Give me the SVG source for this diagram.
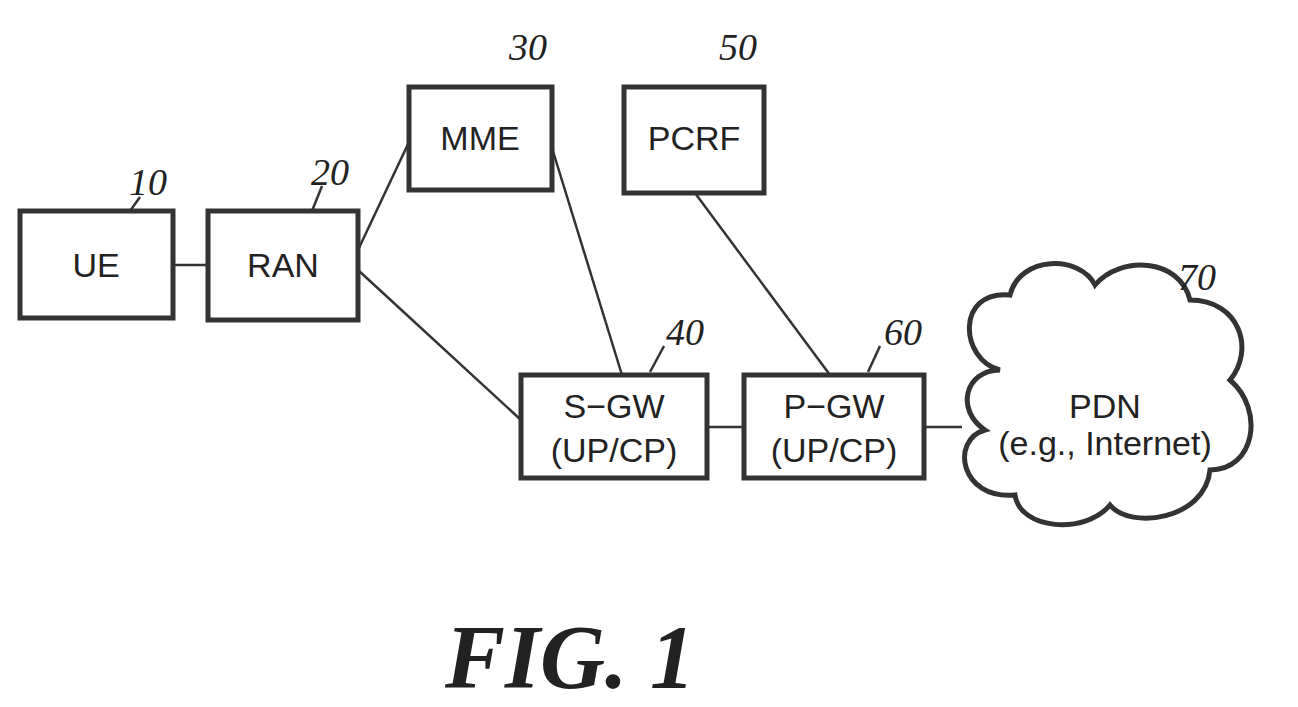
<svg xmlns="http://www.w3.org/2000/svg" width="1298" height="707" viewBox="0 0 1298 707">
<style>
.b{fill:#fff;stroke:#333;stroke-width:5}
.l{stroke:#333;stroke-width:2.5;fill:none}
.t{font-family:"Liberation Sans",Arial,sans-serif;font-size:34px;fill:#222;text-anchor:middle}
.n{font-family:"Liberation Serif",serif;font-style:italic;font-size:38px;fill:#222;text-anchor:middle}
</style>
<rect width="1298" height="707" fill="#fff"/>
<g id="connectors">
<line class="l" x1="173" y1="265" x2="208" y2="265"/>
<line class="l" x1="358" y1="250" x2="409" y2="142"/>
<line class="l" x1="358" y1="270" x2="521" y2="420"/>
<line class="l" x1="552" y1="148" x2="622" y2="375"/>
<line class="l" x1="695" y1="193" x2="830" y2="375"/>
<line class="l" x1="707" y1="427" x2="744" y2="427"/>
<line class="l" x1="924" y1="427" x2="962" y2="427"/>
<path class="l" d="M140 197 L130 211"/>
<path class="l" d="M322 186 L312 211"/>
<path class="l" d="M664 346 L650 372"/>
<path class="l" d="M880 346 L868 372"/>
<path class="l" d="M1188 292 Q1180 305 1175 318"/>
</g>
<g id="UE"><rect class="b" x="20" y="211" width="153" height="107"/><text class="t" x="96" y="277">UE</text></g>
<g id="RAN"><rect class="b" x="208" y="211" width="150" height="109"/><text class="t" x="283" y="277">RAN</text></g>
<g id="MME"><rect class="b" x="409" y="87" width="143" height="103"/><text class="t" x="480" y="150">MME</text></g>
<g id="PCRF"><rect class="b" x="624" y="87" width="140" height="106"/><text class="t" x="694" y="150">PCRF</text></g>
<g id="SGW"><rect class="b" x="521" y="375" width="186" height="103"/><text class="t" x="614" y="418">S−GW</text><text class="t" x="614" y="462">(UP/CP)</text></g>
<g id="PGW"><rect class="b" x="744" y="375" width="180" height="103"/><text class="t" x="834" y="418">P−GW</text><text class="t" x="834" y="462">(UP/CP)</text></g>
<g id="PDN"><path class="b" d="M1000 370 C960 360 955 290 1010 295 C1020 255 1080 255 1095 285 C1120 255 1180 258 1190 300 C1240 300 1255 350 1230 380 C1265 410 1255 470 1210 470 C1205 520 1130 530 1110 505 C1085 535 1020 530 1015 495 C960 500 950 440 985 430 C955 410 965 370 1000 370 Z"/><text class="t" x="1105" y="418">PDN</text><text class="t" x="1105" y="455">(e.g., Internet)</text></g>
<g id="labels">
<text class="n" x="148" y="195">10</text>
<text class="n" x="330" y="185">20</text>
<text class="n" x="528" y="60">30</text>
<text class="n" x="738" y="60">50</text>
<text class="n" x="685" y="345">40</text>
<text class="n" x="903" y="345">60</text>
<text class="n" x="1197" y="290">70</text>
<text x="570" y="688" style="font-family:'Liberation Serif',serif;font-style:italic;font-weight:bold;font-size:90px;fill:#222;text-anchor:middle">FIG. 1</text>
</g>
</svg>
